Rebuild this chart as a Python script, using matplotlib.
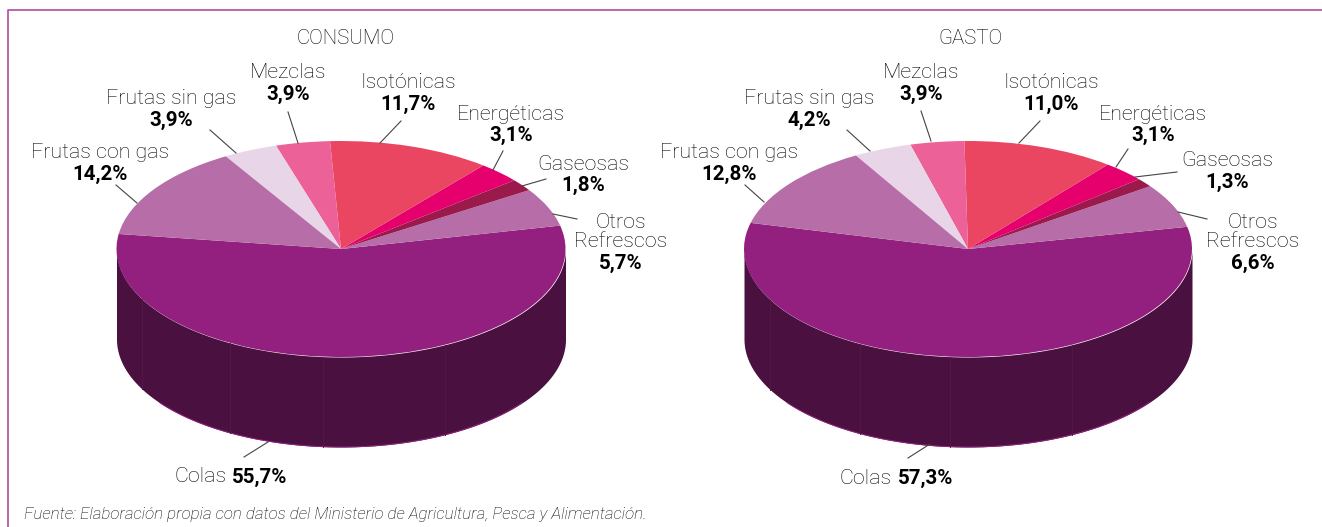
#!/usr/bin/env python
import numpy as np
import matplotlib
matplotlib.use('Agg')
import matplotlib.pyplot as plt

plt.rcParams['font.family'] = ['Roboto', 'DejaVu Sans']

W, H = 1322, 527

# ============ data, counter clockwise starting at Colas ============
categories = ['Colas', 'Otros\nRefrescos', 'Gaseosas', 'Energéticas', 'Isotónicas',
              'Mezclas', 'Frutas sin gas', 'Frutas con gas']
consumo = [55.7, 5.7, 1.8, 3.1, 11.7, 3.9, 3.9, 14.2]
gasto = [57.3, 6.6, 1.3, 3.1, 11.0, 3.9, 4.2, 12.8]

colors = ['#93207F', '#B66DA8', '#9A1B4B', '#E5006D', '#EA4662', '#EC6197', '#E8D5E8', '#B66DA8']
wall_color = '#4A103F'
seam_color = '#551748'
text_color = '#000000'
title_size = 14.7
name_size = 15.4
value_size = 14.8

# ============ layout in pixels of the picture ============
consumo_layout = {
    'title': 'CONSUMO', 'title_xy': (346, 38),
    'center': (341, 249), 'a': 224.5, 'b': 108, 'depth': 90, 'start': 172,
    'seams': [142, 230, 323, 445],
    'text': {
        'Frutas con gas': (100, 152, 174), 'Frutas sin gas': (171, 99, 120),
        'Mezclas': (288, 73, 94), 'Isotónicas': (408, 83, 104),
        'Energéticas': (511, 114, 135), 'Gaseosas': (583, 164, 185),
        'Otros\nRefrescos': (621, 232, 263),
    },
    'colas': (227, 232, 477),
    'leaders': [((116, 185), (137, 203)), ((210, 130), (236, 153)), ((288, 112), (298, 143)),
                ((401, 121), (380, 143)), ((503, 151), (493, 170)), ((546, 179), (522, 186)),
                ((577, 219), (553, 214)), ((244, 457), (268, 442))],
}
gasto_layout = {
    'title': 'GASTO', 'title_xy': (970, 38),
    'center': (968, 249), 'a': 224, 'b': 108, 'depth': 90, 'start': 166,
    'seams': [770, 860, 950, 1072],
    'text': {
        'Frutas con gas': (729, 152, 174), 'Frutas sin gas': (809, 99, 120),
        'Mezclas': (921, 73, 94), 'Isotónicas': (1051, 83, 104),
        'Energéticas': (1153, 114, 135), 'Gaseosas': (1227, 161, 182),
        'Otros\nRefrescos': (1253, 232, 263),
    },
    'colas': (892, 898, 478),
    'leaders': [((745, 185), (764, 202)), ((847, 130), (870, 151)), ((921, 111), (931, 141)),
                ((1040, 121), (1019, 143)), ((1128, 149), (1116, 167)), ((1177, 172), (1135, 177)),
                ((1207, 219), (1178, 212)), ((908, 458), (930, 444))],
}


def pct(v):
    return f'{v:.1f}'.replace('.', ',') + '%'


def draw_pie(fig, over, values, lay):
    cx, cy = lay['center']
    a, b, depth = lay['a'], lay['b'], lay['depth']
    # axes box holds the ellipse and the wall below it, data radius is 1
    left, right = cx - a, cx + a
    top, bottom = cy - b, cy + b + depth
    ax = fig.add_axes([left / W, 1 - bottom / H, (right - left) / W, (bottom - top) / H])
    low = -1 - depth / b

    t = np.linspace(np.pi, 2 * np.pi, 300)
    xs, ys = np.cos(t), np.sin(t)
    ax.fill_between(xs, ys, ys - depth / b, color=wall_color, lw=0, zorder=0)
    # thin magenta rim only along the bottom of the wall
    rim = (t > np.pi * 1.2) & (t < np.pi * 1.8)
    ax.plot(xs[rim], ys[rim] - depth / b, color='#93207F', lw=0.7, zorder=1)
    for sx in lay['seams']:
        x = (sx - cx) / a
        y = -np.sqrt(1 - x * x)
        ax.plot([x, x], [y, y - depth / b], color=seam_color, lw=0.7, zorder=1)

    wedges, _ = ax.pie(values, colors=colors, startangle=lay['start'], radius=1,
                       counterclock=True, wedgeprops={'linewidth': 0})
    for w in wedges:
        w.set_zorder(2)
    ax.set_aspect('auto')
    ax.set_xlim(-1, 1)
    ax.set_ylim(low, 1)
    ax.axis('off')
    for c in ax.get_children():
        c.set_clip_on(False)

    # texts and leader lines
    over.text(*lay['title_xy'], lay['title'], ha='center', va='center', fontsize=title_size,
              fontweight='light', color=text_color)
    for name, v in zip(categories, values):
        if name == 'Colas':
            x1, x2, y = lay['colas']
            over.text(x1, y, name, ha='right', va='center', fontsize=name_size,
                      fontweight='light', color=text_color)
            over.text(x2, y, pct(v), ha='left', va='center', fontsize=value_size,
                      fontweight='bold', color=text_color)
            continue
        x, y1, y2 = lay['text'][name]
        over.text(x, y1, name, ha='center', va='center', fontsize=name_size, linespacing=1.02,
                  fontweight='light', color=text_color)
        over.text(x, y2, pct(v), ha='center', va='center', fontsize=value_size,
                  fontweight='bold', color=text_color)
    for p, q in lay['leaders']:
        over.plot([p[0], q[0]], [p[1], q[1]], color='#444444', lw=0.8)


fig = plt.figure(figsize=(W / 100, H / 100), dpi=100, facecolor='white')

# overlay in pixel coords for text, frame and leaders
over = fig.add_axes([0, 0, 1, 1], zorder=5)
over.set_xlim(0, W)
over.set_ylim(H, 0)
over.axis('off')
over.patch.set_alpha(0)

over.plot([7.5, 7.5, W], [H, 10, 10], color='#B65BA5', lw=1.3)

draw_pie(fig, over, consumo, consumo_layout)
draw_pie(fig, over, gasto, gasto_layout)

over.text(24, 515, 'Fuente: Elaboración propia con datos del Ministerio de Agricultura, Pesca y Alimentación.',
          ha='left', va='center', fontsize=12.2, style='italic', fontweight='light', color=text_color)

fig.savefig('out.png', dpi=100)
